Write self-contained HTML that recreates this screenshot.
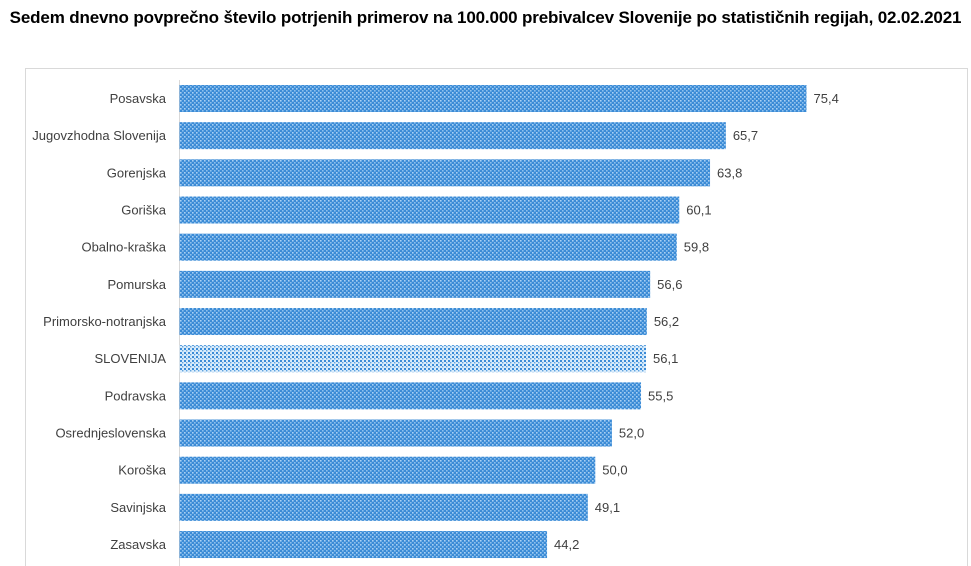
<!DOCTYPE html>
<html><head><meta charset="utf-8">
<style>
body{margin:0;background:#fff;width:971px;height:566px;overflow:hidden;font-family:"Liberation Sans",sans-serif}
#title{position:absolute;left:0;top:8px;width:971px;text-align:center;font-weight:bold;font-size:17px;color:#000;letter-spacing:-0.15px;white-space:nowrap}
svg{position:absolute;left:0;top:0}
</style></head><body>
<div id="title">Sedem dnevno povprečno število potrjenih primerov na 100.000 prebivalcev Slovenije po statističnih regijah, 02.02.2021</div>
<svg id="chart" width="971" height="566">
<defs>
<pattern id="pReg" width="4" height="4" patternUnits="userSpaceOnUse">
<rect width="4" height="4" fill="#3b8bd6"/><rect x="0" y="0" width="1.6" height="1.6" fill="#a9d0f3"/><rect x="2" y="2" width="1.6" height="1.6" fill="#8cc0ee"/>
</pattern>
<pattern id="pSlo" width="4" height="4" patternUnits="userSpaceOnUse">
<rect width="4" height="4" fill="#d8ebfa"/><rect x="0" y="0" width="2" height="2" fill="#3b8bd6"/><rect x="2" y="2" width="1.4" height="1.4" fill="#5fa3e0"/>
</pattern>
</defs>
<rect x="25.5" y="68.5" width="942" height="500" fill="none" stroke="#d9d9d9"/>
<line x1="179.5" y1="80" x2="179.5" y2="566" stroke="#d9d9d9"/>
</svg>
<script>
const categories=["Posavska","Jugovzhodna Slovenija","Gorenjska","Goriška","Obalno-kraška","Pomurska","Primorsko-notranjska","SLOVENIJA","Podravska","Osrednjeslovenska","Koroška","Savinjska","Zasavska"];
const values=[75.4,65.7,63.8,60.1,59.8,56.6,56.2,56.1,55.5,52.0,50.0,49.1,44.2];
const labels=["75,4","65,7","63,8","60,1","59,8","56,6","56,2","56,1","55,5","52,0","50,0","49,1","44,2"];
const svg=document.getElementById('chart');
const NS="http://www.w3.org/2000/svg";
const x0=179.5, scale=627/75.4;
const xPos=v=>x0+v*scale;
const yPos=i=>85+i*37.17;
const bh=27;
categories.forEach((c,i)=>{
  const r=document.createElementNS(NS,'rect');
  r.setAttribute('x',x0);r.setAttribute('y',yPos(i));
  r.setAttribute('width',xPos(values[i])-x0);r.setAttribute('height',bh);
  r.setAttribute('fill',c==="SLOVENIJA"?'url(#pSlo)':'url(#pReg)');
  
  
  svg.appendChild(r);
  const t=document.createElementNS(NS,'text');
  t.setAttribute('x',166);t.setAttribute('y',yPos(i)+bh/2+4.5);
  t.setAttribute('text-anchor','end');t.setAttribute('font-size','13');t.setAttribute('fill','#404040');
  t.textContent=c;
  
  
  svg.appendChild(t);
  const v=document.createElementNS(NS,'text');
  v.setAttribute('x',xPos(values[i])+7);v.setAttribute('y',yPos(i)+bh/2+4.5);
  v.setAttribute('font-size','13');v.setAttribute('fill','#404040');
  v.textContent=labels[i];
  
  
  svg.appendChild(v);
});
</script>
</body></html>
